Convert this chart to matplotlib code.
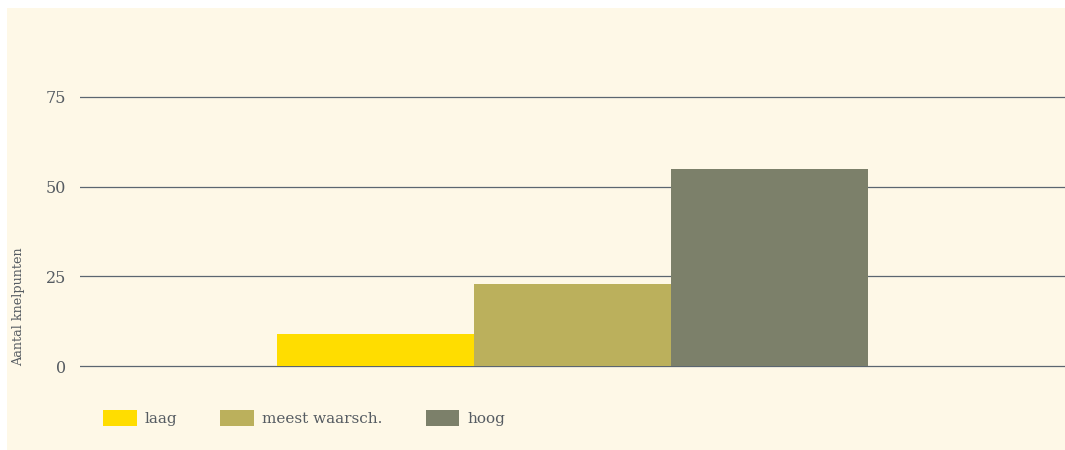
import matplotlib
matplotlib.use("Agg")
import matplotlib.pyplot as plt
from matplotlib.patches import Rectangle

# Scenario estimates of the number of bottlenecks
scenarios = ["laag", "meest waarsch.", "hoog"]
counts = [9, 23, 55]
colors = ["#ffdd00", "#bbb05c", "#7c806a"]
y_ticks = [0, 25, 50, 75]
y_label = "Aantal knelpunten"

W, H = 1065, 450
plt.rcParams["font.family"] = ["DejaVu Serif"]
fig = plt.figure(figsize=(W / 100, H / 100), dpi=100)
fig.patch.set_facecolor("white")
fig.patches.append(Rectangle((7 / W, 0), 1 - 7 / W, (H - 8) / H,
                             transform=fig.transFigure, facecolor="#fef8e7",
                             edgecolor="none", zorder=-10))

text_color = "#565c62"
grid_color = "#5b6670"

ymin, ymax = -2, 77
ax = fig.add_axes([80 / W, 0.1707, 1 - 80 / W, 0.8004 - 0.1707])
ax.set_facecolor("none")
ax.set_zorder(5)

bar_w = 0.2
bars = []
for i, (name, val, col) in enumerate(zip(scenarios, counts, colors)):
    x = (i - 1) * bar_w
    b = ax.bar(x, val, width=bar_w, color=col, label=name, zorder=3,
               linewidth=0)
    bars.append(b)

ax.set_xlim(-0.5, 0.5)
ax.set_ylim(ymin, ymax)
ax.set_yticks(y_ticks)
ax.set_yticklabels([str(t) for t in y_ticks], fontsize=11.5, color=text_color)
ax.tick_params(axis="y", length=0, pad=10)
ax.set_xticks([])
for s in ax.spines.values():
    s.set_visible(False)
for t in y_ticks:
    ax.axhline(t, color=grid_color, lw=0.9, zorder=2)

fig.text(19 / W, 1 - 307 / H, y_label, rotation=90, ha="center", va="center",
         fontsize=9.2, color=text_color)

fs = 11
leg = fig.legend(handles=[b[0] for b in bars], labels=scenarios,
                 loc="center left", bbox_to_anchor=(103 / W, 1 - 418 / H),
                 ncol=3, frameon=False, fontsize=fs,
                 handlelength=2.2, handleheight=1.25, handletextpad=0.55,
                 columnspacing=2.8, borderaxespad=0, borderpad=0)
for txt in leg.get_texts():
    txt.set_color(text_color)

fig.savefig("out.png", dpi=100)
